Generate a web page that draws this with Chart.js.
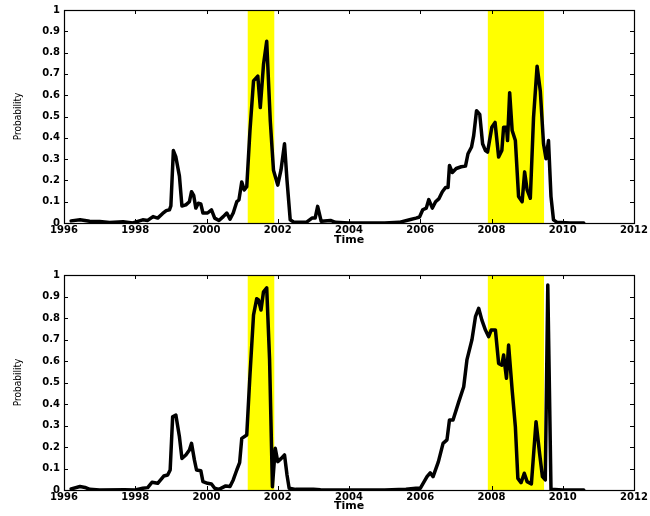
<!DOCTYPE html>
<html>
<head>
<meta charset="utf-8">
<script src="https://cdn.jsdelivr.net/npm/chart.js@4.4.0/dist/chart.umd.min.js"></script>
<style>
    html, body { margin: 0; padding: 0; background: #fff; }
    body { width: 650px; height: 516px; position: relative; overflow: hidden; }
    canvas { position: absolute; left: 0; }
    #top-chart { top: 0; }
    #bottom-chart { top: 262px; }
</style>
</head>
<body>
<canvas id="top-chart" width="650" height="250"></canvas>
<canvas id="bottom-chart" width="650" height="254"></canvas>
<script>
// recession bands (shaded yellow)
const recessionStart = [2001.15, 2007.89];
const recessionEnd   = [2001.91, 2009.48];

const xTickStep = 2;
const yTickStep = 0.1;

// upper panel
const topTime = [
    1996.2, 1996.45, 1996.72, 1997.0, 1997.28, 1997.66, 1997.93, 1998.21, 1998.35, 1998.5,
    1998.63, 1998.77, 1998.87, 1998.96, 1999.0, 1999.07, 1999.14, 1999.24, 1999.31, 1999.42,
    1999.52, 1999.58, 1999.64, 1999.7, 1999.77, 1999.84, 1999.9, 2000.03, 2000.14, 2000.23,
    2000.35, 2000.47, 2000.57, 2000.66, 2000.75, 2000.85, 2000.91, 2000.99, 2001.06, 2001.13,
    2001.22, 2001.32, 2001.44, 2001.51, 2001.6, 2001.69, 2001.79, 2001.88, 2002.0, 2002.09,
    2002.19, 2002.26, 2002.35, 2002.44, 2002.8, 2002.96, 2003.05, 2003.12, 2003.22, 2003.48,
    2003.62, 2004.0, 2005.0, 2005.41, 2005.7, 2005.88, 2005.98, 2006.07, 2006.17, 2006.24,
    2006.34, 2006.43, 2006.52, 2006.62, 2006.71, 2006.78, 2006.82, 2006.9, 2007.01, 2007.15,
    2007.27, 2007.34, 2007.44, 2007.5, 2007.58, 2007.67, 2007.75, 2007.83, 2007.89, 2008.01,
    2008.1, 2008.2, 2008.29, 2008.34, 2008.42, 2008.45, 2008.51, 2008.58, 2008.67, 2008.76,
    2008.86, 2008.93, 2009.0, 2009.09, 2009.18, 2009.28, 2009.37, 2009.46, 2009.53, 2009.6,
    2009.67, 2009.74, 2009.84, 2010.2, 2010.59
];
const topProb = [
    0.01, 0.015, 0.008, 0.007, 0.002, 0.006, 0.0, 0.015, 0.012, 0.03,
    0.023, 0.045, 0.058, 0.062, 0.08, 0.34, 0.31, 0.22, 0.08, 0.085,
    0.10, 0.147, 0.13, 0.07, 0.093, 0.09, 0.047, 0.047, 0.062, 0.023,
    0.012, 0.03, 0.047, 0.018, 0.047, 0.10, 0.108, 0.193, 0.155, 0.17,
    0.434, 0.667, 0.69, 0.542, 0.744, 0.853, 0.48, 0.248, 0.178, 0.248,
    0.372, 0.2, 0.015, 0.005, 0.003, 0.023, 0.023, 0.078, 0.008, 0.012,
    0.003, 0.0, 0.0, 0.003, 0.015, 0.023, 0.028, 0.062, 0.07, 0.11,
    0.07, 0.10, 0.113, 0.147, 0.167, 0.167, 0.27, 0.237, 0.256, 0.264,
    0.267, 0.325, 0.357, 0.41, 0.527, 0.51, 0.372, 0.34, 0.333, 0.45,
    0.472, 0.31, 0.34, 0.45, 0.45, 0.387, 0.612, 0.434, 0.387, 0.124,
    0.10, 0.24, 0.155, 0.116, 0.496, 0.736, 0.62, 0.372, 0.302, 0.387,
    0.124, 0.015, 0.003, 0.0, 0.0
];

// lower panel
const bottomTime = [
    1996.2, 1996.45, 1996.59, 1996.72, 1997.0, 1997.7, 1998.0, 1998.21, 1998.35, 1998.47,
    1998.63, 1998.8, 1998.91, 1998.98, 1999.05, 1999.14, 1999.24, 1999.31, 1999.42, 1999.52,
    1999.58, 1999.66, 1999.72, 1999.84, 1999.9, 2000.03, 2000.14, 2000.23, 2000.35, 2000.54,
    2000.66, 2000.75, 2000.85, 2000.93, 2000.99, 2001.13, 2001.22, 2001.32, 2001.41, 2001.46,
    2001.53, 2001.6, 2001.69, 2001.77, 2001.85, 2001.93, 2002.0, 2002.1, 2002.19, 2002.26,
    2002.32, 2002.5, 2003.0, 2003.2, 2004.0, 2005.0, 2005.6, 2005.88, 2006.0, 2006.19,
    2006.28, 2006.36, 2006.51, 2006.64, 2006.75, 2006.82, 2006.92, 2007.08, 2007.22, 2007.31,
    2007.45, 2007.55, 2007.64, 2007.73, 2007.83, 2007.92, 2007.99, 2008.11, 2008.2, 2008.29,
    2008.34, 2008.42, 2008.48, 2008.58, 2008.67, 2008.74, 2008.83, 2008.92, 2009.0, 2009.12,
    2009.25, 2009.35, 2009.43, 2009.51, 2009.58, 2009.67, 2010.0, 2010.59
];
const bottomProb = [
    0.005, 0.016, 0.012, 0.003, 0.0, 0.001, 0.0, 0.008, 0.011, 0.036,
    0.031, 0.065, 0.07, 0.093, 0.341, 0.349, 0.248, 0.147, 0.163, 0.186,
    0.217, 0.14, 0.093, 0.09, 0.039, 0.031, 0.028, 0.008, 0.003, 0.019,
    0.016, 0.047, 0.093, 0.127, 0.24, 0.256, 0.535, 0.814, 0.89, 0.884,
    0.837, 0.922, 0.94, 0.61, 0.015, 0.194, 0.132, 0.147, 0.163, 0.07,
    0.008, 0.003, 0.003, 0.001, 0.0, 0.0, 0.003, 0.008, 0.008, 0.062,
    0.08, 0.062, 0.132, 0.217, 0.233, 0.326, 0.326, 0.41, 0.48, 0.605,
    0.698, 0.806, 0.845, 0.79, 0.744, 0.713, 0.744, 0.744, 0.589, 0.581,
    0.628, 0.52, 0.674, 0.465, 0.294, 0.054, 0.034, 0.078, 0.039, 0.028,
    0.318, 0.17, 0.062, 0.047, 0.953, 0.003, 0.0, 0.0
];

const TICK_FONT = { family: 'DejaVu Sans', size: 10, weight: 'bold' };

// matlab-like box with inward ticks on all four sides
const boxFrame = {
    id: 'boxFrame',
    afterDatasetsDraw(chart) {
        const { ctx, chartArea: a, scales: { x, y } } = chart;
        const len = 4;
        ctx.save();
        ctx.strokeStyle = '#000';
        ctx.lineWidth = 1;
        ctx.beginPath();
        x.ticks.forEach(t => {
            const px = Math.round(x.getPixelForValue(t.value)) + 0.5;
            ctx.moveTo(px, a.bottom); ctx.lineTo(px, a.bottom - len);
            ctx.moveTo(px, a.top);    ctx.lineTo(px, a.top + len);
        });
        y.ticks.forEach(t => {
            const py = Math.round(y.getPixelForValue(t.value)) + 0.5;
            ctx.moveTo(a.left, py);  ctx.lineTo(a.left + len, py);
            ctx.moveTo(a.right, py); ctx.lineTo(a.right - len, py);
        });
        ctx.stroke();
        ctx.lineWidth = 1.2;
        ctx.strokeRect(a.left + 0.5, a.top + 0.5, a.right - a.left, a.bottom - a.top);
        ctx.restore();
    }
};

function pairs(xs, ys) {
    return xs.map((v, i) => ({ x: v, y: ys[i] }));
}

function makeChart(id, time, prob, padTop, axisHeight) {
    const bands = recessionStart.map((s, i) => ({
        data: [{ x: s, y: 1 }, { x: recessionEnd[i], y: 1 }],
        borderWidth: 0,
        pointRadius: 0,
        backgroundColor: '#ffff00',
        fill: 'origin',
    }));

    return new Chart(document.getElementById(id).getContext('2d'), {
        type: 'line',
        data: {
            datasets: [{
                data: pairs(time, prob),
                borderColor: '#000',
                borderWidth: 3.5,
                borderJoinStyle: 'round',
                borderCapStyle: 'round',
                pointRadius: 0,
                tension: 0,
                fill: false,
            }, ...bands],
        },
        options: {
            responsive: false,
            animation: false,
            events: [],
            layout: { padding: { left: 0, right: 16, top: padTop, bottom: 0 } },
            plugins: { legend: { display: false }, tooltip: { enabled: false } },
            scales: {
                x: {
                    type: 'linear',
                    min: 1996, max: 2012,
                    grid: { display: false, drawTicks: false },
                    border: { display: false },
                    ticks: {
                        stepSize: xTickStep,
                        autoSkip: false,
                        maxRotation: 0,
                        padding: 1,
                        color: '#000',
                        font: TICK_FONT,
                        callback: v => String(v),
                    },
                    title: {
                        display: true,
                        text: 'Time',
                        color: '#000',
                        font: { family: 'DejaVu Sans', size: 11, weight: 'bold' },
                        padding: { top: 0, bottom: 3 },
                    },
                    afterFit: s => { s.height = axisHeight; },
                },
                y: {
                    min: 0, max: 1,
                    grid: { display: false, drawTicks: false },
                    border: { display: false },
                    ticks: {
                        stepSize: yTickStep,
                        padding: 4,
                        color: '#000',
                        font: TICK_FONT,
                        callback: v => String(+v.toFixed(1)),
                    },
                    title: {
                        display: true,
                        text: 'Probability',
                        color: '#000',
                        font: { family: "'Liberation Sans Narrow', 'DejaVu Sans Condensed', sans-serif", size: 10 },
                        padding: { top: 12, bottom: 0 },
                    },
                    afterFit: s => { s.width = 64; },
                },
            },
        },
        plugins: [boxFrame],
    });
}

makeChart('top-chart', topTime, topProb, 8, 27);
makeChart('bottom-chart', bottomTime, bottomProb, 13, 26);
</script>
</body>
</html>
